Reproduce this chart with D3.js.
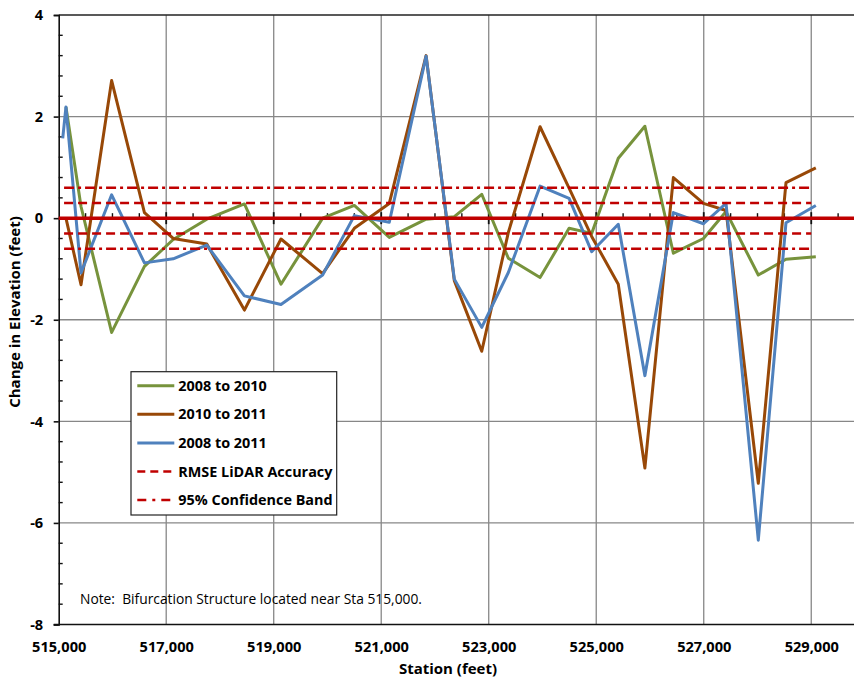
<!DOCTYPE html>
<html>
<head>
<meta charset="utf-8">
<script src="https://cdn.jsdelivr.net/npm/d3@7"></script>
<style>
  body { margin: 0; background: #fff; }
  svg { display: block; }
  text { font-family: "Open Sans", "Noto Sans", sans-serif; }
</style>
</head>
<body>
<svg id="chart" width="854" height="679"></svg>
<script>
// Survey stations (feet) and elevation change (feet) at each station
const stations = [515075, 515135, 515415, 515985, 516595, 517130, 517755, 518455, 519135, 519910,
                  520500, 521150, 521835, 522360, 522870, 523365, 523955, 524495, 524915, 525410,
                  525905, 526435, 526995, 527415, 528015, 528530, 529085];
const change2008to2010 = [null, 2.19, 0.23, -2.25, -0.95, -0.42, -0.02, 0.28, -1.30, 0.00,
                          0.25, -0.38, -0.02, 0.03, 0.47, -0.79, -1.17, -0.20, -0.30, 1.18,
                          1.81, -0.69, -0.40, 0.13, -1.12, -0.81, -0.76];
const change2010to2011 = [null, 0.00, -1.31, 2.71, 0.11, -0.40, -0.51, -1.81, -0.41, -1.09,
                          -0.20, 0.29, 3.20, -1.23, -2.62, -0.28, 1.80, 0.59, -0.36, -1.30,
                          -4.92, 0.80, 0.29, 0.15, -5.22, 0.70, 0.99];
const change2008to2011 = [1.57, 2.19, -1.08, 0.46, -0.88, -0.80, -0.53, -1.53, -1.70, -1.12,
                          0.05, -0.08, 3.19, -1.20, -2.15, -1.07, 0.63, 0.39, -0.66, -0.12,
                          -3.10, 0.11, -0.11, 0.29, -6.34, -0.09, 0.25];

// Accuracy reference bands (feet) and the station range they cover
const rmseAccuracy = 0.3;
const confidenceBand = 0.6;
const bandStations = [515100, 529000];

// Axis ticks
const xTickValues = [515000, 517000, 519000, 521000, 523000, 525000, 527000, 529000];
const yTickValues = [-8, -6, -4, -2, 0, 2, 4];

const seriesNames = ["2008 to 2010", "2010 to 2011", "2008 to 2011"];
const seriesColors = ["#77933C", "#984807", "#4F81BD"];
const refColor = "#C00000";

const svg = d3.select("#chart");
const x = d3.scaleLinear().domain([515000, 530000]).range([58.7, 865]);
const y = d3.scaleLinear().domain([-8, 4]).range([624.5, 15]);
const plotLeft = x(515000), plotTop = y(4), plotBottom = y(-8), plotRight = 854;

// Gridlines
const grid = svg.append("g").attr("stroke", "#878787").attr("stroke-width", 1.3);
grid.selectAll("line.v").data(xTickValues.slice(1)).join("line")
  .attr("x1", d => x(d)).attr("x2", d => x(d)).attr("y1", plotTop).attr("y2", plotBottom);
grid.selectAll("line.h").data(yTickValues.filter(d => d !== 0 && d !== 4 && d !== -8)).join("line")
  .attr("x1", plotLeft).attr("x2", plotRight).attr("y1", d => y(d)).attr("y2", d => y(d));

// Plot frame: top border and bottom axis line
svg.append("line").attr("x1", plotLeft).attr("x2", plotRight).attr("y1", plotTop).attr("y2", plotTop)
  .attr("stroke", "#222").attr("stroke-width", 1.3);
svg.append("line").attr("x1", plotLeft - 5).attr("x2", plotRight).attr("y1", plotBottom).attr("y2", plotBottom)
  .attr("stroke", "#111").attr("stroke-width", 1.6);

// Y axis: major ticks outside with labels, minor ticks inside
const yAxis = d3.axisLeft(y).tickValues(yTickValues).tickSize(5).tickPadding(10.5)
  .tickFormat(d => String(d));
const gy = svg.append("g").attr("transform", `translate(${plotLeft},0)`).call(yAxis);
gy.select(".domain").attr("stroke", "#111").attr("stroke-width", 1.6);
gy.selectAll(".tick line").attr("stroke", "#111").attr("stroke-width", 1.6);
gy.selectAll(".tick text").attr("font-size", 14.6).attr("font-weight", 700).attr("fill", "#000");
const yMinor = d3.range(-8, 4.001, 0.4).filter(v => Math.abs(v / 2 - Math.round(v / 2)) > 1e-6);
svg.append("g").selectAll("line").data(yMinor).join("line")
  .attr("x1", plotLeft).attr("x2", plotLeft + 4).attr("y1", d => y(d)).attr("y2", d => y(d))
  .attr("stroke", "#111").attr("stroke-width", 1.4);

// X axis labels along the bottom
const xAxis = d3.axisBottom(x).tickValues(xTickValues).tickSize(0).tickPadding(17.5)
  .tickFormat(d3.format(","));
const gx = svg.append("g").attr("transform", `translate(0,${plotBottom})`).call(xAxis);
gx.select(".domain").remove();
gx.selectAll(".tick text").attr("font-size", 14.6).attr("font-weight", 700).attr("fill", "#000");

// X axis tick marks crossing at zero
const xMinor = d3.range(515500, 530000, 500).filter(v => !xTickValues.includes(v));
svg.append("g").selectAll("line").data(xMinor).join("line")
  .attr("x1", d => x(d)).attr("x2", d => x(d)).attr("y1", y(0) - 5).attr("y2", y(0))
  .attr("stroke", "#111").attr("stroke-width", 1.4);
svg.append("g").selectAll("line").data(xTickValues.slice(1)).join("line")
  .attr("x1", d => x(d)).attr("x2", d => x(d)).attr("y1", y(0) - 6).attr("y2", y(0) + 6)
  .attr("stroke", "#111").attr("stroke-width", 1.8);

// Data series
const lineGen = d3.line().defined(d => d.v != null).x(d => x(d.s)).y(d => y(d.v));
[change2008to2010, change2010to2011, change2008to2011].forEach((vals, i) => {
  const pts = stations.map((s, k) => ({ s, v: vals[k] }));
  svg.append("path").datum(pts)
    .attr("d", lineGen)
    .attr("fill", "none")
    .attr("stroke", seriesColors[i])
    .attr("stroke-width", 3)
    .attr("stroke-linejoin", "round");
});

// Reference lines
svg.append("line").attr("x1", plotLeft).attr("x2", plotRight).attr("y1", y(0)).attr("y2", y(0))
  .attr("stroke", refColor).attr("stroke-width", 3.5);
const refLines = [
  { v: rmseAccuracy, dash: "9,5" }, { v: -rmseAccuracy, dash: "9,5" },
  { v: confidenceBand, dash: "10,4,3,4" }, { v: -confidenceBand, dash: "10,4,3,4" }
];
svg.append("g").selectAll("line").data(refLines).join("line")
  .attr("x1", x(bandStations[0])).attr("x2", x(bandStations[1]))
  .attr("y1", d => y(d.v)).attr("y2", d => y(d.v))
  .attr("stroke", refColor).attr("stroke-width", 2.5).attr("stroke-dasharray", d => d.dash);

// Axis titles
svg.append("text").attr("x", 448).attr("y", 674).attr("text-anchor", "middle")
  .attr("font-size", 15).attr("font-weight", 700).text("Station (feet)");
svg.append("text").attr("transform", "translate(19.5,312) rotate(-90)").attr("text-anchor", "middle")
  .attr("font-size", 15).attr("font-weight", 700).text("Change in Elevation (feet)");

// Note
svg.append("text").attr("x", 80).attr("y", 603.5).attr("font-size", 13.8)
  .style("white-space", "pre")
  .text("Note:  Bifurcation Structure located near Sta 515,000.");

// Legend
const legendItems = [
  { name: seriesNames[0], color: seriesColors[0], dash: null, w: 3 },
  { name: seriesNames[1], color: seriesColors[1], dash: null, w: 3 },
  { name: seriesNames[2], color: seriesColors[2], dash: null, w: 3 },
  { name: "RMSE LiDAR Accuracy", color: refColor, dash: "8,5", w: 2.5 },
  { name: "95% Confidence Band", color: refColor, dash: "9,6,3,6", w: 2.5 }
];
const lg = svg.append("g");
lg.append("rect").attr("x", 131).attr("y", 371.7).attr("width", 205.7).attr("height", 143.3)
  .attr("fill", "#fff").attr("stroke", "#222").attr("stroke-width", 1.2);
const rows = lg.selectAll("g").data(legendItems).join("g")
  .attr("transform", (d, i) => `translate(0,${385.7 + i * 28.6})`);
rows.append("line").attr("x1", 137.3).attr("x2", 174.3).attr("y1", 0).attr("y2", 0)
  .attr("stroke", d => d.color).attr("stroke-width", d => d.w)
  .attr("stroke-dasharray", d => d.dash);
rows.append("text").attr("x", 178.3).attr("y", 5).attr("font-size", 14.4).attr("font-weight", 700)
  .text(d => d.name);
</script>
</body>
</html>
